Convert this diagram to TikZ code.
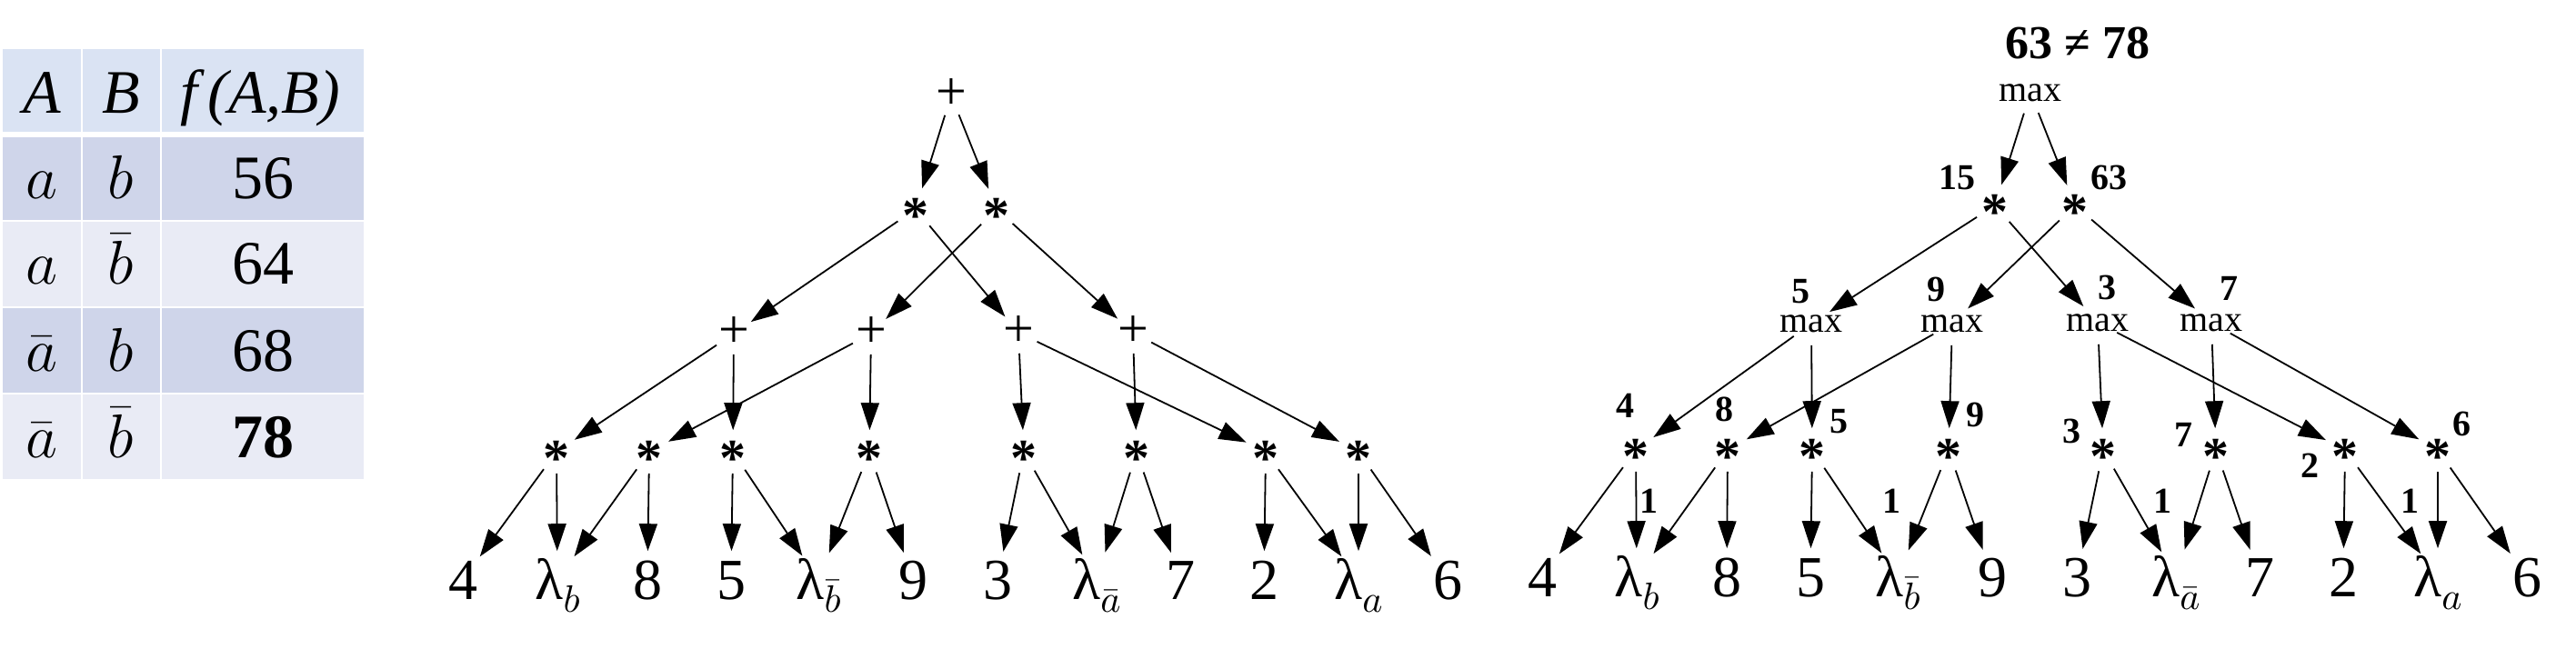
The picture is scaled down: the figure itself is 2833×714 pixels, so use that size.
\RequirePackage{fix-cm}
\documentclass[tikz,border=0pt]{standalone}
\usepackage{fontspec}
\setmainfont{Liberation Serif}
\usetikzlibrary{arrows.meta}
\definecolor{hdr}{HTML}{DAE3F3}
\definecolor{dk}{HTML}{CFD5EA}
\definecolor{lt}{HTML}{E9EBF5}
\newcommand\ctr[2]{\smash{\makebox[0pt]{\raisebox{-#1}{#2}}}}
\newcommand\lam[1]{λ\raisebox{-0.22em}{\fontsize{10.5pt}{10.5pt}\selectfont$#1$}}
\newcommand\st{\ctr{0.46em}{*}}
\newcommand\pl{\ctr{0.253em}{+}}
\newcommand\mx{\ctr{0.23em}{max}}
\newcommand\dg[1]{\ctr{0.338em}{#1}}
\tikzset{
  starop/.style={circle, inner sep=0pt, minimum size=11.5pt, font=\bfseries\fontsize{14.5pt}{14.5pt}\selectfont},
  plusop/.style={circle, inner sep=0pt, minimum size=11pt, font=\fontsize{15pt}{15pt}\selectfont},
  maxop/.style={circle, inner sep=0pt, minimum size=11.5pt, font=\fontsize{10pt}{10pt}\selectfont},
  leaf/.style={circle, inner sep=0pt, minimum size=15.5pt, font=\fontsize{16pt}{16pt}\selectfont},
  arr/.style={-{Triangle[length=7.5pt,width=5pt]}, line width=0.45pt},
  lab/.style={inner sep=0pt, font=\bfseries\fontsize{10pt}{10pt}\selectfont},
  tcell/.style={anchor=base, inner sep=0pt, font=\fontsize{17pt}{17pt}\selectfont},
}
\begin{document}
\begin{tikzpicture}[x=0.25pt, y=-0.25pt]
\useasboundingbox (0,0) rectangle (2833,714);
% ---------- table ----------
\fill[hdr] (3,54) rectangle (89,145);
\fill[hdr] (91,54) rectangle (176,145);
\fill[hdr] (178,54) rectangle (400,145);
\foreach \ya/\yb/\c in {151/242/dk, 244/337/lt, 339/432/dk, 434/527/lt}{
  \fill[\c] (3,\ya) rectangle (89,\yb);
  \fill[\c] (91,\ya) rectangle (176,\yb);
  \fill[\c] (178,\ya) rectangle (400,\yb);
}
\node[tcell] (tA) at (46,125) {\textit{A}};
\node[tcell] (tB) at (133,125) {\textit{B}};
\node[tcell] (tF) at (286,125) {\textit{f\,(A,B)}};
\node[tcell] (t11) at (46,219) {$a$};
\node[tcell] (t12) at (133,219) {$b$};
\node[tcell] (t13) at (289,219) {56};
\node[tcell] (t21) at (46,313) {$a$};
\node[tcell] (t22) at (133,313) {$\bar b$};
\node[tcell] (t23) at (289,313) {64};
\node[tcell] (t31) at (46,409) {$\bar a$};
\node[tcell] (t32) at (133,409) {$b$};
\node[tcell] (t33) at (289,409) {68};
\node[tcell] (t41) at (46,504) {$\bar a$};
\node[tcell] (t42) at (133,504) {$\bar b$};
\node[tcell] (t43) at (289,504) {\textbf{78}};
% ---------- left tree ----------
\node[plusop] (Lr0) at (1046,105) {\pl};
\node[starop] (La1) at (1007,230) {\st};
\node[starop] (La2) at (1096,230) {\st};
\node[plusop] (Lp1) at (807,367) {\pl};
\node[plusop] (Lp2) at (958,367) {\pl};
\node[plusop] (Lp3) at (1120,366) {\pl};
\node[plusop] (Lp4) at (1246,366) {\pl};
\foreach \n/\x in {1/612,2/714,3/806,4/956,5/1126,6/1250,7/1392,8/1494}
  \node[starop] (Lm\n) at (\x,497) {\st};
\node[leaf] (Ll1) at (509,638) {\dg{4}};
\node[leaf] (Ll2) at (613,638) {\dg{\lam{b}}};
\node[leaf] (Ll3) at (712,638) {\dg{8}};
\node[leaf] (Ll4) at (804,638) {\dg{5}};
\node[leaf] (Ll5) at (900,638) {\dg{\lam{\bar b}}};
\node[leaf] (Ll6) at (1004,638) {\dg{9}};
\node[leaf] (Ll7) at (1097,638) {\dg{3}};
\node[leaf] (Ll8) at (1206,638) {\dg{\lam{\bar a}}};
\node[leaf] (Ll9) at (1298,638) {\dg{7}};
\node[leaf] (Ll10) at (1390,638) {\dg{2}};
\node[leaf] (Ll11) at (1494,638) {\dg{\lam{a}}};
\node[leaf] (Ll12) at (1592,638) {\dg{6}};
% ---------- right tree ----------
\node[lab, font=\bfseries\fontsize{13pt}{13pt}\selectfont] (Rtitle) at (2285,47) {\dg{63 ≠ 78}};
\node[maxop] (Rr0) at (2233,102) {\mx};
\node[starop] (Ra1) at (2194,226) {\st};
\node[starop] (Ra2) at (2282,226) {\st};
\node[maxop] (Rp1) at (1992,356) {\mx};
\node[maxop] (Rp2) at (2147,356) {\mx};
\node[maxop] (Rp3) at (2307,355) {\mx};
\node[maxop] (Rp4) at (2432,355) {\mx};
\foreach \n/\x in {1/1799,2/1900,3/1993,4/2143,5/2313,6/2437,7/2579,8/2681}
  \node[starop] (Rm\n) at (\x,495) {\st};
\node[leaf] (Rl1) at (1696,635) {\dg{4}};
\node[leaf] (Rl2) at (1800,635) {\dg{\lam{b}}};
\node[leaf] (Rl3) at (1899,635) {\dg{8}};
\node[leaf] (Rl4) at (1991,635) {\dg{5}};
\node[leaf] (Rl5) at (2087,635) {\dg{\lam{\bar b}}};
\node[leaf] (Rl6) at (2191,635) {\dg{9}};
\node[leaf] (Rl7) at (2284,635) {\dg{3}};
\node[leaf] (Rl8) at (2393,635) {\dg{\lam{\bar a}}};
\node[leaf] (Rl9) at (2485,635) {\dg{7}};
\node[leaf] (Rl10) at (2577,635) {\dg{2}};
\node[leaf] (Rl11) at (2681,635) {\dg{\lam{a}}};
\node[leaf] (Rl12) at (2779,635) {\dg{6}};
% value labels
\node[lab] (v15) at (2152,195) {\dg{15}};
\node[lab] (v63) at (2319,195) {\dg{63}};
\node[lab] (vq1) at (1980,320) {\dg{5}};
\node[lab] (vq2) at (2129,318) {\dg{9}};
\node[lab] (vq3) at (2317,316) {\dg{3}};
\node[lab] (vq4) at (2451,317) {\dg{7}};
\node[lab] (vm1) at (1787,446) {\dg{4}};
\node[lab] (vm2) at (1896,450) {\dg{8}};
\node[lab] (vm3) at (2022,463) {\dg{5}};
\node[lab] (vm4) at (2172,456) {\dg{9}};
\node[lab] (vm5) at (2278,474) {\dg{3}};
\node[lab] (vm6) at (2401,478) {\dg{7}};
\node[lab] (vm7) at (2540,512) {\dg{2}};
\node[lab] (vm8) at (2707,466) {\dg{6}};
\node[lab] (vo1) at (1813,551) {\dg{1}};
\node[lab] (vo2) at (2080,551) {\dg{1}};
\node[lab] (vo3) at (2378,551) {\dg{1}};
\node[lab] (vo4) at (2650,551) {\dg{1}};
% ---------- connectors ----------
\foreach \a/\b in {r0/a1, r0/a2, a1/p1, a1/p3, a2/p2, a2/p4,
  p1/m1, p1/m3, p2/m2, p2/m4, p3/m5, p3/m7, p4/m6, p4/m8,
  m1/l1, m1/l2, m2/l2, m2/l3, m3/l4, m3/l5, m4/l5, m4/l6,
  m5/l7, m5/l8, m6/l8, m6/l9, m7/l10, m7/l11, m8/l11, m8/l12}{
  \draw[arr] (L\a) -- (L\b);
  \draw[arr] (R\a) -- (R\b);
}
\end{tikzpicture}
\end{document}
